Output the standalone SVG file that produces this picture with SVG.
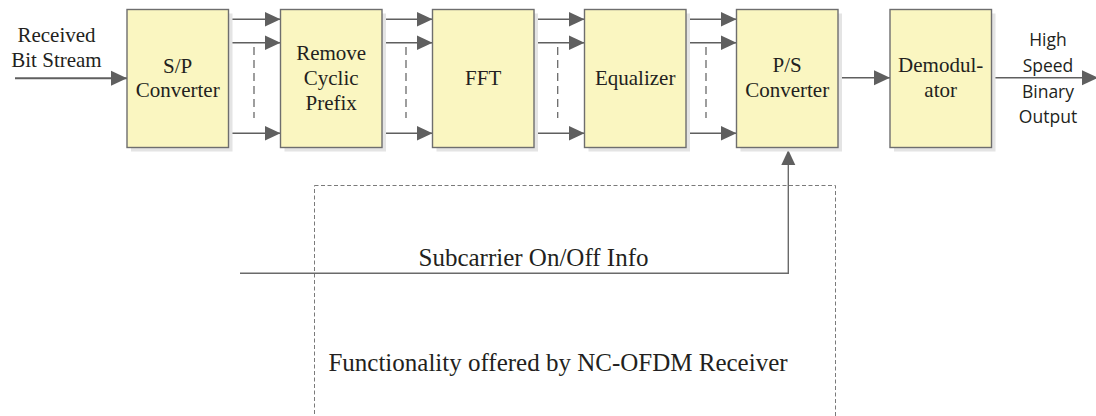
<svg xmlns="http://www.w3.org/2000/svg" width="1096" height="416" viewBox="0 0 1096 416">
<defs>
<style>
.box{fill:#faf6c1;stroke:#6e6e6e;stroke-width:1.4}
.sh{fill:#e4e4e4}
.t{font-family:"Liberation Serif","Times New Roman",serif;font-size:21px;fill:#231f20;text-anchor:middle}
.big{font-family:"Liberation Serif","Times New Roman",serif;font-size:25px;fill:#231f20;text-anchor:middle}
.s{font-family:"Open Sans","Liberation Sans",sans-serif;font-size:17.5px;fill:#231f20;text-anchor:middle}
.ar{stroke:#5f5f5f;stroke-width:1.6;fill:none;marker-end:url(#ah)}
.dv{stroke:#6a6a6a;stroke-width:1.3;stroke-dasharray:8 5;fill:none}
.fb{stroke:#6a6a6a;stroke-width:1.4;fill:none}
.reg{stroke:#7a7a7a;stroke-width:1;stroke-dasharray:4 2.5;fill:none}
</style>
<marker id="ah" markerUnits="userSpaceOnUse" markerWidth="16" markerHeight="16" refX="16" refY="8" orient="auto">
<path d="M0,0.5 L16,8 L0,15.5 z" fill="#5f5f5f"/>
</marker>
<marker id="ahu" markerUnits="userSpaceOnUse" markerWidth="15" markerHeight="15" refX="15" refY="7.5" orient="auto">
<path d="M0,0.5 L15,7.5 L0,14.5 z" fill="#5f5f5f"/>
</marker>
</defs>
<rect width="1096" height="416" fill="#ffffff"/>

<rect id="region" class="reg" x="314.5" y="185.5" width="521" height="240"/>

<g id="connectors">
<line class="ar" x1="15" y1="78.3" x2="127" y2="78.3" style="stroke-width:2"/>
<line class="ar" x1="228.5" y1="19.3" x2="280.5" y2="19.3"/>
<line class="ar" x1="228.5" y1="42.7" x2="280.5" y2="42.7"/>
<line class="ar" x1="228.5" y1="133.3" x2="280.5" y2="133.3"/>
<line class="dv" x1="254" y1="47" x2="254" y2="118"/>
<line class="ar" x1="382" y1="19.3" x2="432.5" y2="19.3"/>
<line class="ar" x1="382" y1="42.7" x2="432.5" y2="42.7"/>
<line class="ar" x1="382" y1="133.3" x2="432.5" y2="133.3"/>
<line class="dv" x1="406" y1="47" x2="406" y2="118"/>
<line class="ar" x1="534" y1="19.3" x2="584.5" y2="19.3"/>
<line class="ar" x1="534" y1="42.7" x2="584.5" y2="42.7"/>
<line class="ar" x1="534" y1="133.3" x2="584.5" y2="133.3"/>
<line class="dv" x1="557.7" y1="47" x2="557.7" y2="118"/>
<line class="ar" x1="686" y1="19.3" x2="736.5" y2="19.3"/>
<line class="ar" x1="686" y1="42.7" x2="736.5" y2="42.7"/>
<line class="ar" x1="686" y1="133.3" x2="736.5" y2="133.3"/>
<line class="dv" x1="706" y1="47" x2="706" y2="118"/>
<line class="ar" x1="838" y1="77.7" x2="890" y2="77.7"/>
<line class="ar" x1="992" y1="77.7" x2="1098" y2="77.7"/>
<polyline class="fb" points="240,273.3 788.3,273.3 788.3,150" style="marker-end:url(#ahu)"/>
</g>

<g id="sp">
<rect class="sh" x="131" y="13.5" width="101.5" height="138"/>
<rect class="box" x="127" y="9.5" width="101.5" height="138"/>
<text class="t" x="177.7" y="73">S/P</text>
<text class="t" x="177.7" y="97">Converter</text>
</g>
<g id="rcp">
<rect class="sh" x="284.5" y="13.5" width="101.5" height="138"/>
<rect class="box" x="280.5" y="9.5" width="101.5" height="138"/>
<text class="t" x="331.2" y="60">Remove</text>
<text class="t" x="331.2" y="85">Cyclic</text>
<text class="t" x="331.2" y="110">Prefix</text>
</g>
<g id="fft">
<rect class="sh" x="436.5" y="13.5" width="101.5" height="138"/>
<rect class="box" x="432.5" y="9.5" width="101.5" height="138"/>
<text class="t" x="483.2" y="85">FFT</text>
</g>
<g id="eq">
<rect class="sh" x="588.5" y="13.5" width="101.5" height="138"/>
<rect class="box" x="584.5" y="9.5" width="101.5" height="138"/>
<text class="t" x="635.2" y="85">Equalizer</text>
</g>
<g id="ps">
<rect class="sh" x="740.5" y="13.5" width="101.5" height="138"/>
<rect class="box" x="736.5" y="9.5" width="101.5" height="138"/>
<text class="t" x="787.2" y="72">P/S</text>
<text class="t" x="787.2" y="97">Converter</text>
</g>
<g id="demod">
<rect class="sh" x="894" y="13.5" width="101.5" height="138"/>
<rect class="box" x="890" y="9.5" width="101.5" height="138"/>
<text class="t" x="940.7" y="72">Demodul-</text>
<text class="t" x="940.7" y="97">ator</text>
</g>

<g id="labels">
<text class="t" x="56.5" y="42">Received</text>
<text class="t" x="56.5" y="67">Bit Stream</text>
<text class="s" x="1048" y="46">High</text>
<text class="s" x="1048" y="72">Speed</text>
<text class="s" x="1048" y="98">Binary</text>
<text class="s" x="1048" y="123">Output</text>
<text class="big" x="533.5" y="266">Subcarrier On/Off Info</text>
<text class="big" x="558" y="371">Functionality offered by NC-OFDM Receiver</text>
</g>
</svg>
